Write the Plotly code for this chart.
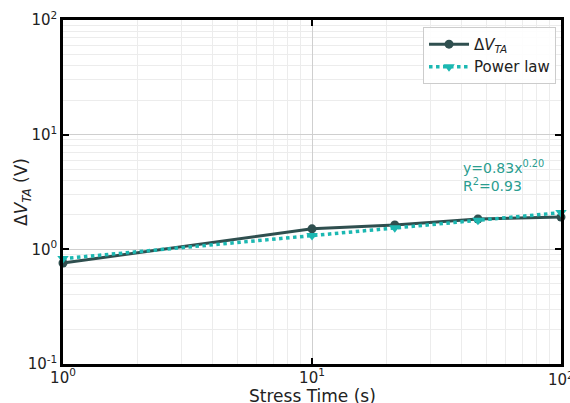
import plotly.graph_objects as go

stress_time = [1, 10, 21.5, 46.4, 100]
dv_ta = [0.76, 1.51, 1.63, 1.84, 1.91]
power_fit = [0.83, 1.32, 1.54, 1.79, 2.09]
fit_text = "y=0.83x<sup>0.20</sup><br>R<sup>2</sup>=0.93"
x_tickvals = [1, 10, 100]
x_ticktext = ["10<sup>0</sup>", "10<sup>1</sup>", "10<sup>2</sup>"]
y_tickvals = [0.1, 1, 10, 100]
y_ticktext = ["10<sup>-1</sup>", "10<sup>0</sup>", "10<sup>1</sup>", "10<sup>2</sup>"]
x_minor = [m * 10 ** e for e in range(0, 2) for m in range(2, 10)]
y_minor = [m * 10 ** e for e in range(-1, 2) for m in range(2, 10)]

dark = "#2f4f4f"
teal = "#1cb8b2"
txt_teal = "#2a9d8f"
font_fam = "DejaVu Sans"

fig = go.Figure()
fig.add_trace(go.Scatter(x=stress_time, y=dv_ta, mode="lines+markers",
                         name="Δ<i>V</i><sub><i>TA</i></sub>",
                         line=dict(color=dark, width=3),
                         marker=dict(color=dark, size=9), cliponaxis=False))
fig.add_trace(go.Scatter(x=stress_time, y=power_fit, mode="lines+markers",
                         name="Power law",
                         line=dict(color=teal, width=3.5, dash="dot"),
                         marker=dict(color=teal, size=10, symbol="triangle-down"),
                         cliponaxis=False))

axis_common = dict(type="log", showline=True, linecolor="black", linewidth=2.5,
                   mirror="ticks", ticks="inside", ticklen=6, tickwidth=2, tickcolor="black",
                   showgrid=True, gridcolor="#cfcfcf", gridwidth=1,
                   zeroline=False, automargin=False, tickmode="array",
                   tickfont=dict(size=15, color="#222", family=font_fam))

fig.update_xaxes(range=[0, 2], tickvals=x_tickvals, ticktext=x_ticktext, ticklabelstandoff=-2,
                 minor=dict(tickmode="array", tickvals=x_minor, showgrid=True,
                            gridcolor="#ececec", gridwidth=1, ticks=""),
                 **axis_common)
fig.update_yaxes(range=[-1, 2], tickvals=y_tickvals, ticktext=y_ticktext,
                 minor=dict(tickmode="array", tickvals=y_minor, showgrid=True,
                            gridcolor="#ececec", gridwidth=1, ticks=""),
                 **axis_common)

# last x tick label (plotly drops it because it overflows the page edge)
fig.add_annotation(x=2, y=0, xref="x", yref="paper", yshift=-3, xanchor="center", yanchor="top",
                   text=x_ticktext[-1], showarrow=False,
                   font=dict(size=15, family=font_fam, color="#222"))

fig.add_annotation(x=0.5, y=0, xref="paper", yref="paper", yshift=-32,
                   text="Stress Time (s)", showarrow=False, xanchor="center", yanchor="middle",
                   font=dict(size=17, family=font_fam, color="#222"))
fig.add_annotation(x=0, y=0.5, xref="paper", yref="paper", xshift=-41, xanchor="center", yanchor="middle",
                   text="Δ<i>V</i><sub><i>TA</i></sub> (V)", showarrow=False, textangle=-90,
                   font=dict(size=17, family=font_fam, color="#222"))

fig.add_annotation(x=0.8, y=0.547, xref="paper", yref="paper", xanchor="left", yanchor="middle",
                   text=fit_text, showarrow=False, align="left",
                   font=dict(size=14, color=txt_teal, family=font_fam))

fig.update_layout(width=570, height=403, margin=dict(l=63, r=9, t=20, b=39),
                  plot_bgcolor="white", paper_bgcolor="white",
                  legend=dict(x=0.99, y=0.98, xanchor="right", yanchor="top",
                              bgcolor="rgba(255,255,255,0.9)", bordercolor="#cccccc", borderwidth=1,
                              itemwidth=40, tracegroupgap=2,
                              font=dict(size=15, family=font_fam, color="#222")),
                  showlegend=True)

fig.write_html("out.html", config={"displayModeBar": False},
               post_script="document.body.style.margin='0';document.body.style.padding='0';")
